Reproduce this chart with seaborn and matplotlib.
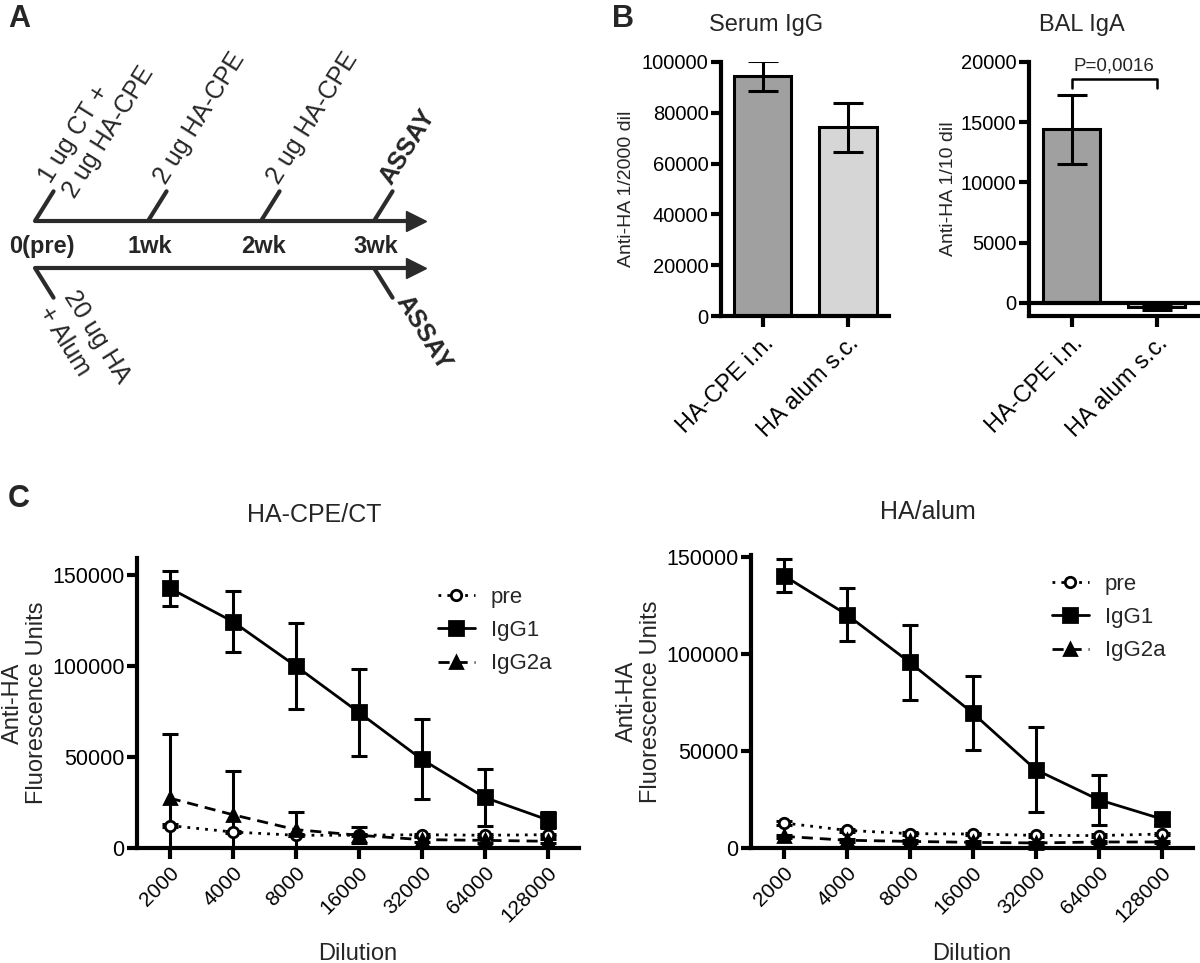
import matplotlib
matplotlib.use('Agg')

import numpy as np
import pandas as pd
import matplotlib.pyplot as plt
import seaborn as sns


# panel A - immunisation schedule
weeks = [0, 1, 2, 3]
week_labels = ['0(pre)', '1wk', '2wk', '3wk']
top_events = ['1 ug CT +\n2 ug HA-CPE', '2 ug HA-CPE', '2 ug HA-CPE', 'ASSAY']
bottom_weeks = [0, 3]
bottom_events = ['20 ug HA\n+ Alum', 'ASSAY']

# panel B - bars
groups = ['HA-CPE i.n.', 'HA alum s.c.']
serum_igg = [94400, 74300]
serum_igg_sd = [5800, 9700]
bal_iga = [14400, -330]
bal_iga_sd = [2900, 220]
p_text = 'P=0,0016'

# panel C - dilution curves
dilutions = [2000, 4000, 8000, 16000, 32000, 64000, 128000]
cpe_pre = [12300, 8800, 7000, 7000, 7300, 7000, 7300]
cpe_pre_sd = [900, 700, 600, 600, 600, 600, 600]
cpe_igg1 = [142700, 124400, 100000, 74600, 48800, 27800, 15500]
cpe_igg1_sd = [9600, 17000, 23500, 24000, 22000, 15700, 4300]
cpe_igg2a = [27400, 18300, 10100, 7000, 4600, 4200, 3700]
cpe_igg2a_sd = [35300, 24100, 9700, 4300, 1500, 1200, 1000]
alum_pre = [12900, 9100, 7400, 7200, 6500, 6400, 7200]
alum_pre_sd = [900, 700, 600, 600, 600, 600, 600]
alum_igg1 = [140400, 120300, 95700, 69600, 40400, 24900, 15000]
alum_igg1_sd = [8300, 13700, 19200, 19000, 21800, 12800, 3000]
alum_igg2a = [6000, 4000, 3400, 2900, 2600, 3100, 3100]
alum_igg2a_sd = [800, 700, 600, 600, 600, 600, 600]

sns.set_theme(style='ticks')
plt.rcParams['font.family'] = ['Liberation Sans', 'DejaVu Sans']
plt.rcParams['axes.linewidth'] = 3
plt.rcParams['xtick.major.width'] = 3
plt.rcParams['ytick.major.width'] = 3
plt.rcParams['xtick.major.size'] = 8
plt.rcParams['ytick.major.size'] = 7
plt.rcParams['xtick.color'] = 'black'
plt.rcParams['ytick.color'] = 'black'
plt.rcParams['axes.edgecolor'] = 'black'

W, H = 1200, 963
fig = plt.figure(figsize=(12, 9.63), dpi=100)


def px_axes(x0, y0, x1, y1):
    return fig.add_axes([x0 / W, 1 - y1 / H, (x1 - x0) / W, (y1 - y0) / H])


#################################################
# A
ax = px_axes(0, 0, 460, 450)
ax.set_xlim(0, 460)
ax.set_ylim(450, 0)
ax.axis('off')
dark = '#2b2b2b'
x_start, wk_px = 35, 113
y_top, y_bot = 221, 268
ang = 58
seg = 35
dx, dy = seg * np.cos(np.radians(ang)), seg * np.sin(np.radians(ang))
for y in (y_top, y_bot):
    ax.plot([x_start, 412], [y, y], color=dark, lw=3, solid_capstyle='butt')
    ax.plot([416], [y], marker='>', ms=14, color=dark, mec=dark)

for w, lab, ev in zip(weeks, week_labels, top_events):
    x = x_start + w * wk_px
    ax.plot([x, x + dx], [y_top, y_top - dy], color=dark, lw=3)
    ax.text(x + (7 if w == 0 else 2), 246, lab, ha='center', va='center',
            fontsize=17, fontweight='bold')
    va = 'center' if '\n' in ev else 'bottom'
    ax.text(x + dx + 3, y_top - dy - 3, ev, rotation=ang, rotation_mode='anchor',
            ha='left', va=va, fontsize=18, linespacing=1.25,
            fontweight='bold' if ev == 'ASSAY' else 'normal')

for w, ev in zip(bottom_weeks, bottom_events):
    x = x_start + w * wk_px
    ax.plot([x, x + dx], [y_bot, y_bot + dy], color=dark, lw=3)
    va = 'center' if '\n' in ev else 'baseline'
    ax.text(x + dx + 3, y_bot + dy + 3, ev, rotation=-ang, rotation_mode='anchor',
            ha='left', va=va, fontsize=18, linespacing=1.25,
            fontweight='bold' if ev == 'ASSAY' else 'normal')

fig.text(8 / W, 1 - 4 / H, 'A', fontsize=22, fontweight='bold', va='top')
fig.text(612 / W, 1 - 4 / H, 'B', fontsize=22, fontweight='bold', va='top')
fig.text(8 / W, 1 - 484 / H, 'C', fontsize=22, fontweight='bold', va='top')

#################################################
# B
bar_cols = ['#a0a0a0', '#d6d6d6']


def style_bar_axes(ax):
    sns.despine(ax=ax)
    ax.tick_params(axis='y', labelsize=14.5, pad=2)
    ax.tick_params(axis='x', labelsize=17, pad=4)
    plt.setp(ax.get_xticklabels(), rotation=45, ha='right', rotation_mode='anchor')
    ax.ticklabel_format(style='plain', axis='y')
    ax.set_xlabel('')


ax = px_axes(721, 62, 889, 316)
sns.barplot(x=groups, y=serum_igg, hue=groups, palette=bar_cols, width=0.67,
            edgecolor='black', linewidth=2.2, errorbar=None, legend=False, ax=ax)
ax.errorbar(range(len(groups)), serum_igg, yerr=serum_igg_sd, fmt='none',
            ecolor='black', elinewidth=2.2, capsize=11, capthick=2.2)
ax.set_xlim(-0.49, 1.48)
ax.set_ylim(0, 100000)
ax.set_yticks(np.arange(0, 100001, 20000))
style_bar_axes(ax)
ax.set_ylabel('Anti-HA 1/2000 dil', fontsize=14, labelpad=5)
ax.set_title('Serum IgG', fontsize=17, x=0.27, pad=22)

ax = px_axes(1029, 62, 1200, 316)
sns.barplot(x=groups, y=bal_iga, hue=groups, palette=bar_cols, width=0.67,
            edgecolor='black', linewidth=2.2, errorbar=None, legend=False, ax=ax)
ax.errorbar(range(len(groups)), bal_iga, yerr=bal_iga_sd, fmt='none',
            ecolor='black', elinewidth=2.2, capsize=11, capthick=2.2)
ax.axhline(0, color='black', lw=3, zorder=1)
ax.set_xlim(-0.5, 1.51)
ax.set_ylim(-1080, 20000)
ax.set_yticks(np.arange(0, 20001, 5000))
style_bar_axes(ax)
ax.set_ylabel('Anti-HA 1/10 dil', fontsize=14, labelpad=3)
ax.set_title('BAL IgA', fontsize=17, x=0.31, pad=22)
# significance bracket
ax.plot([0, 0, 1, 1], [17850, 18600, 18600, 17850], color='black', lw=1.8)
ax.text(0.5, 19000, p_text, ha='center', va='bottom', fontsize=13.5)

#################################################
# C


def dilution_panel(ax, pre, pre_sd, igg1, igg1_sd, igg2a, igg2a_sd, ytop, title, leg_y):
    series = [
        ('pre', pre, pre_sd, 'o', (0, (1, 2.2)), 'white', 7.5),
        ('IgG1', igg1, igg1_sd, 's', '-', 'black', 9.5),
        ('IgG2a', igg2a, igg2a_sd, '^', (0, (4, 2.5)), 'black', 8),
    ]
    for name, vals, sd, mk, ls, mfc, ms in series:
        ax.errorbar(dilutions, vals, yerr=sd, fmt='none', ecolor='black',
                    elinewidth=2.2, capsize=6, capthick=2.2, zorder=2)
        sns.lineplot(x=dilutions, y=vals, ax=ax, color='black', lw=2,
                     linestyle=ls, marker=mk, ms=ms, markerfacecolor=mfc,
                     markeredgecolor='black', markeredgewidth=2,
                     errorbar=None, label=name, zorder=3, clip_on=False)
    ax.set_xscale('log', base=2)
    ax.set_xlim(2000 / 2 ** 0.52, 128000 * 2 ** 0.5)
    ax.set_xticks(dilutions)
    ax.set_xticklabels([str(d) for d in dilutions])
    ax.minorticks_off()
    ax.set_ylim(0, ytop)
    ax.set_yticks([0, 50000, 100000, 150000])
    ax.ticklabel_format(style='plain', axis='y')
    sns.despine(ax=ax)
    ax.tick_params(axis='y', labelsize=15.5, pad=2)
    ax.tick_params(axis='x', labelsize=15, pad=3)
    plt.setp(ax.get_xticklabels(), rotation=45, ha='right', rotation_mode='anchor')
    ax.set_ylabel('Anti-HA\nFluorescence Units', fontsize=17, labelpad=3, linespacing=1.1)
    ax.set_xlabel('Dilution', fontsize=17, labelpad=12)
    ax.set_title(title, fontsize=18, x=0.40, pad=26)
    ax.legend(loc='upper left', bbox_to_anchor=(0.68, leg_y), frameon=False,
              fontsize=16, handlelength=1.7, handletextpad=0.7,
              borderpad=0, borderaxespad=0, labelspacing=0.55)


ax = px_axes(137, 558, 579, 848)
dilution_panel(ax, cpe_pre, cpe_pre_sd, cpe_igg1, cpe_igg1_sd,
               cpe_igg2a, cpe_igg2a_sd, 159300, 'HA-CPE/CT', 0.90)

ax = px_axes(751, 555, 1193, 848)
dilution_panel(ax, alum_pre, alum_pre_sd, alum_igg1, alum_igg1_sd,
               alum_igg2a, alum_igg2a_sd, 151000, 'HA/alum', 0.935)

fig.savefig('out.png', dpi=100)
